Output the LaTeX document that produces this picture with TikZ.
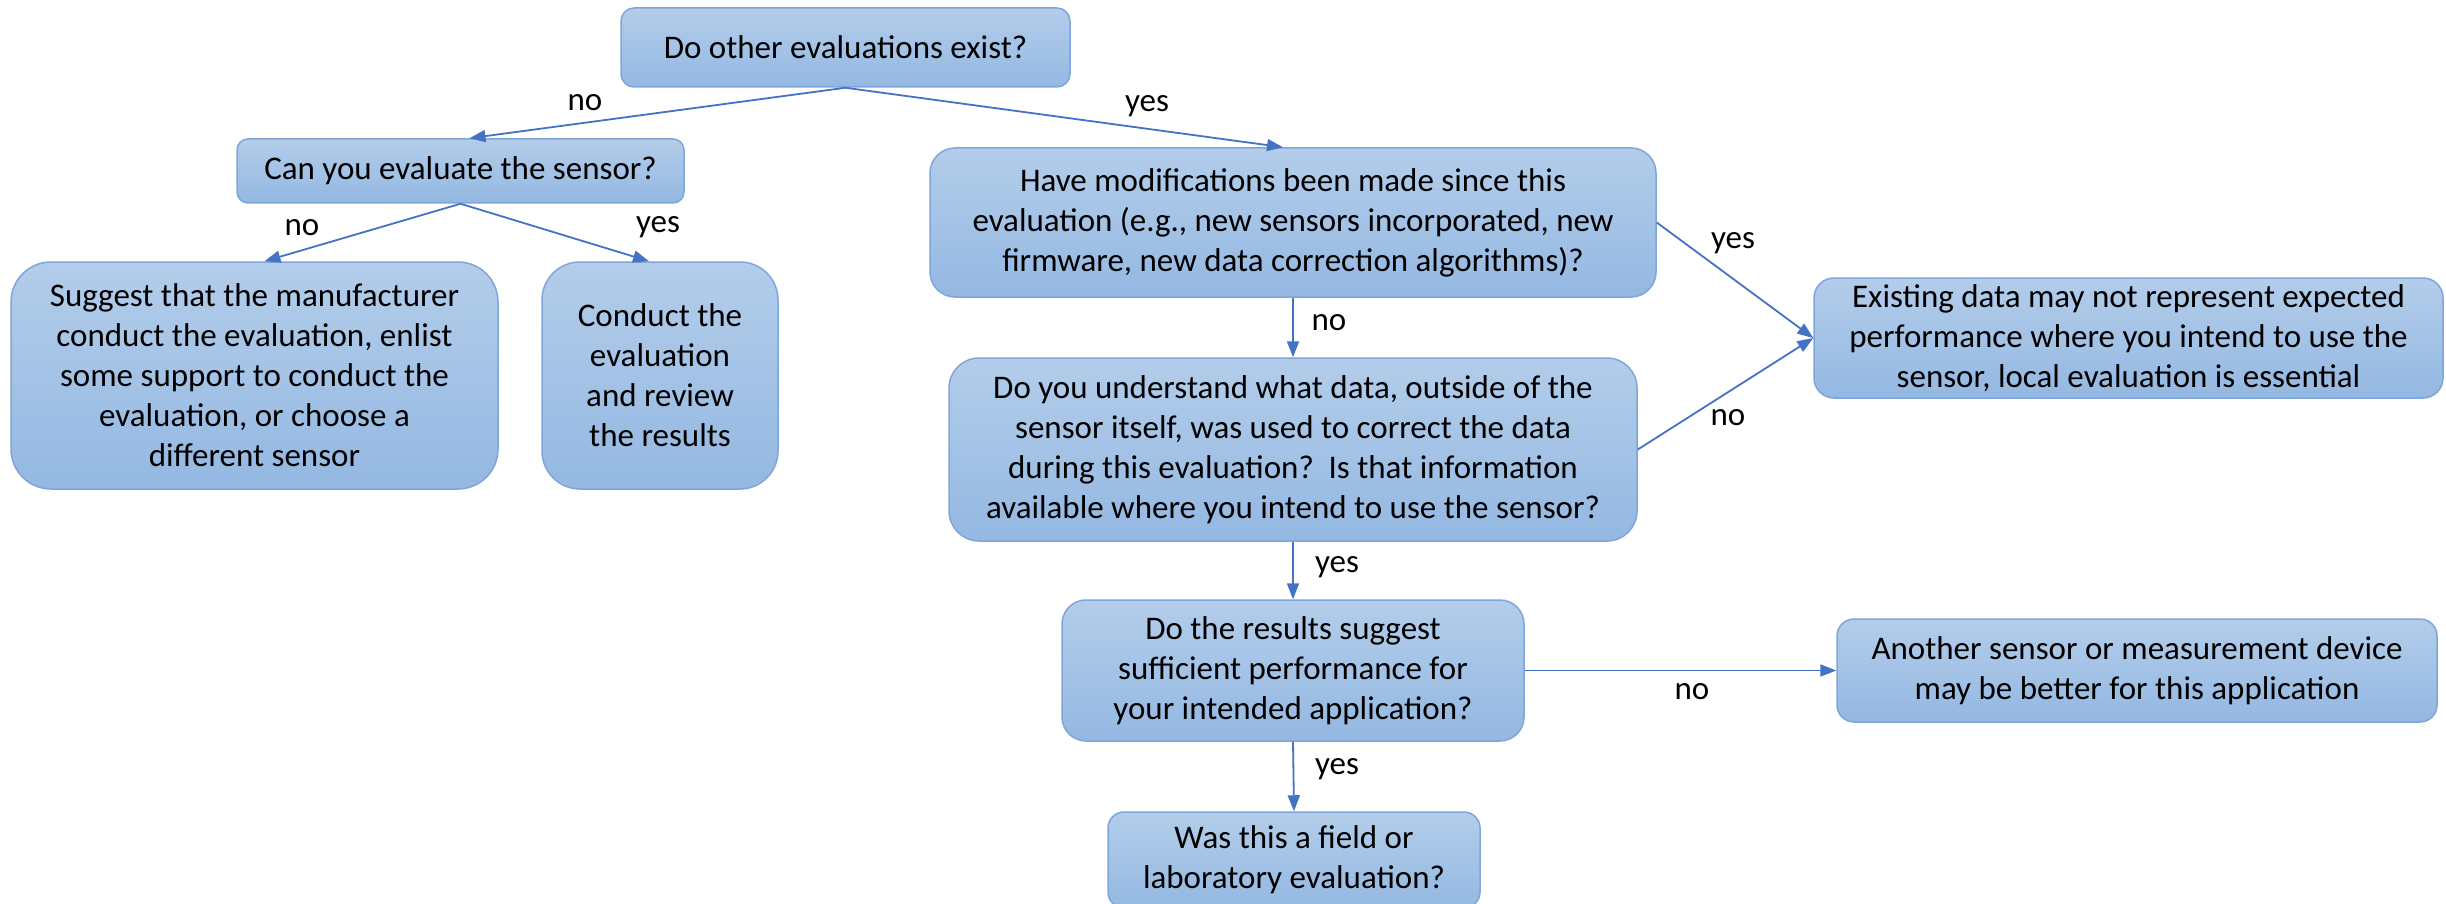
\documentclass[tikz,border=0pt]{standalone}
\usepackage{fontspec}
\setmainfont{Carlito}
\usetikzlibrary{arrows.meta}
\definecolor{boxtop}{HTML}{B3CDEA}
\definecolor{boxbot}{HTML}{94B8E2}
\definecolor{boxline}{HTML}{7EA6DA}
\definecolor{arrowblue}{HTML}{4472C4}
\tikzset{
  qbox/.style n args={3}{draw=boxline, line width=1.5pt, top color=boxtop, bottom color=boxbot,
    rounded corners=#3, minimum width=#1, minimum height=#2, inner sep=0pt,
    align=center, font=\fontsize{33}{40}\selectfont},
  flow/.style={draw=arrowblue, line width=1.8pt, -{Triangle[length=16pt,width=12pt]}},
  lbl/.style={font=\fontsize{33}{40}\selectfont, inner sep=0pt}
}
\begin{document}
\begin{tikzpicture}[x=1pt,y=-1pt]
\useasboundingbox (0,0) rectangle (2446,904);

% decision boxes
\node[qbox={449pt}{79pt}{13pt}]  (exist)   at (845.5,47.5) {Do other evaluations exist?};
\node[qbox={447pt}{64pt}{11pt}]  (canyou)  at (460.5,171)  {Can you evaluate the sensor?};
\node[qbox={487pt}{227pt}{40pt}] (suggest) at (254.5,375.5) {Suggest that the manufacturer\\conduct the evaluation, enlist\\some support to conduct the\\evaluation, or choose a\\different sensor};
\node[qbox={236pt}{227pt}{38pt}] (conduct) at (660,375.5)  {Conduct the\\evaluation\\and review\\the results};
\node[qbox={726pt}{149pt}{25pt}] (modif)   at (1293,222.5) {Have modifications been made since this\\evaluation (e.g., new sensors incorporated, new\\firmware, new data correction algorithms)?};
\node[qbox={688pt}{183pt}{30pt}] (underst) at (1293,449.5) {Do you understand what data, outside of the\\sensor itself, was used to correct the data\\during this evaluation?\ \ Is that information\\available where you intend to use the sensor?};
\node[qbox={629pt}{120pt}{20pt}] (existing) at (2128.5,338) {Existing data may not represent expected\\performance where you intend to use the\\sensor, local evaluation is essential};
\node[qbox={462pt}{141pt}{24pt}] (results) at (1293,670.5) {Do the results suggest\\sufficient performance for\\your intended application?};
\node[qbox={600pt}{103pt}{17pt}] (another) at (2137,670.5) {Another sensor or measurement device\\may be better for this application};
\node[qbox={372pt}{96pt}{16pt}]  (field)   at (1294,860) {Was this a field or\\laboratory evaluation?};

% connectors
\draw[flow] (exist.south) -- ([xshift=9pt]canyou.north);
\draw[flow] (exist.south) -- ([xshift=-10pt]modif.north);
\draw[flow] (canyou.south) -- ([xshift=10pt]suggest.north);
\draw[flow] (canyou.south) -- ([xshift=-11pt]conduct.north);
\draw[flow] (modif.east) -- (existing.west);
\draw[flow] (underst.east) -- (existing.west);
\draw[flow] (modif.south) -- (underst.north);
\draw[flow] (underst.south) -- (results.north);
\draw[flow] (results.east) -- (another.west);
\draw[flow] (results.south) -- (field.north);

% branch labels
\node[lbl] (l1) at (585,103) {no};
\node[lbl] (l2) at (1147,106) {yes};
\node[lbl] (l3) at (302,228) {no};
\node[lbl] (l4) at (658,227) {yes};
\node[lbl] (l5) at (1733,243) {yes};
\node[lbl] (l6) at (1728,418) {no};
\node[lbl] (l7) at (1329,323) {no};
\node[lbl] (l8) at (1337,567) {yes};
\node[lbl] (l9) at (1692,692) {no};
\node[lbl] (l10) at (1337,769) {yes};
\end{tikzpicture}
\end{document}
